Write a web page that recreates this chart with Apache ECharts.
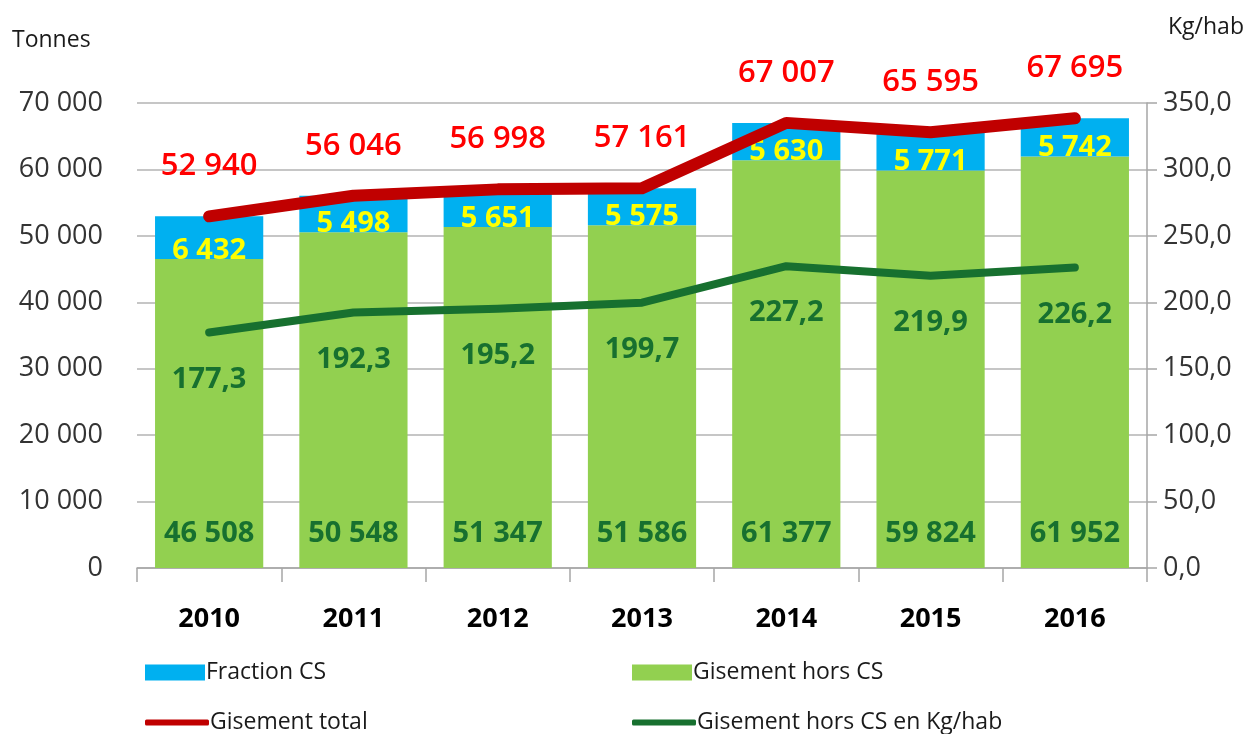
<!DOCTYPE html>
<html>
<head>
<meta charset="utf-8">
<script src="https://cdn.jsdelivr.net/npm/echarts@6/dist/echarts.min.js"></script>
<style>
  html, body { margin: 0; padding: 0; background: #fff; }
  #chart { width: 1256px; height: 734px; }
</style>
</head>
<body>
<div id="chart"></div>
<script>
// données
var years = ['2010', '2011', '2012', '2013', '2014', '2015', '2016']
var horsCS = [46508, 50548, 51347, 51586, 61377, 59824, 61952]
var fractionCS = [6432, 5498, 5651, 5575, 5630, 5771, 5742]
var total = [52940, 56046, 56998, 57161, 67007, 65595, 67695]
var kgHab = [177.3, 192.3, 195.2, 199.7, 227.2, 219.9, 226.2]
var leftTicks = [0, 10000, 70000]   // min, pas, max
var rightTicks = [0, 50, 350]

var FONT = 'Open Sans'

// 52940 -> "52 940"
function fmtInt(v) {
  return String(Math.round(v)).replace(/\B(?=(\d{3})+(?!\d))/g, ' ')
}
function fmtDec(v) {
  return v.toFixed(1).replace('.', ',')
}

var chart = echarts.init(document.getElementById('chart'), null, { renderer: 'canvas' })

var legendBase = {
  orient: 'horizontal',
  itemWidth: 60,
  itemHeight: 16,
  itemGap: 4,
  textStyle: { fontFamily: FONT, fontSize: 23, color: '#1a1a1a', padding: [0, 0, 0, -4] },
  selectedMode: false
}

var dataLabel = {
  show: true,
  fontFamily: FONT,
  fontSize: 29,
  fontWeight: 'bold'
}

var option = {
  animation: false,
  backgroundColor: '#fff',
  textStyle: { fontFamily: FONT },
  grid: { left: 137, right: 109, top: 103, bottom: 166, containLabel: false },
  graphic: [
    { type: 'text', left: 12, top: 29, style: { text: 'Tonnes', font: '23px "Open Sans"', fill: '#1a1a1a' } },
    { type: 'text', left: 1168, top: 16, style: { text: 'Kg/hab', font: '23px "Open Sans"', fill: '#1a1a1a' } }
  ],
  legend: [
    Object.assign({}, legendBase, { left: 140, top: 656, data: [{ name: 'Fraction CS', icon: 'rect' }] }),
    Object.assign({}, legendBase, { left: 627, top: 656, data: [{ name: 'Gisement hors CS', icon: 'rect' }] }),
    Object.assign({}, legendBase, { left: 140, top: 706, itemWidth: 64, itemHeight: 6,
      data: [{ name: 'Gisement total', icon: 'roundRect' }] }),
    Object.assign({}, legendBase, { left: 627, top: 706, itemWidth: 64, itemHeight: 6,
      data: [{ name: 'Gisement hors CS en Kg/hab', icon: 'roundRect' }] })
  ],
  xAxis: {
    type: 'category',
    data: years,
    axisLine: { show: true, lineStyle: { color: '#a6a6a6', width: 1.5 } },
    axisTick: { show: true, length: 14, alignWithLabel: false, lineStyle: { color: '#a6a6a6', width: 1.5 } },
    axisLabel: { margin: 38, fontFamily: FONT, fontSize: 27, fontWeight: 'bold', color: '#000' }
  },
  yAxis: [{
    type: 'value',
    min: leftTicks[0],
    interval: leftTicks[1],
    max: leftTicks[2],
    axisLine: { show: false },
    axisTick: { show: false },
    splitLine: { show: true, lineStyle: { color: '#b3b3b3', width: 1.5 } },
    axisLabel: { margin: 34, fontFamily: FONT, fontSize: 27, color: '#333', formatter: fmtInt }
  }, {
    type: 'value',
    min: rightTicks[0],
    interval: rightTicks[1],
    max: rightTicks[2],
    position: 'right',
    axisLine: { show: true, lineStyle: { color: '#a6a6a6', width: 1.5 } },
    axisTick: { show: true, length: 10, lineStyle: { color: '#a6a6a6', width: 1.5 } },
    splitLine: { show: false },
    axisLabel: { margin: 16, fontFamily: FONT, fontSize: 27, color: '#333', formatter: fmtDec }
  }],
  series: [{
    name: 'Gisement hors CS',
    type: 'bar',
    stack: 'tonnes',
    barCategoryGap: '25%',
    itemStyle: { color: '#92d050' },
    label: Object.assign({}, dataLabel, {
      position: 'insideBottom',
      distance: 20,
      color: '#17702f',
      formatter: function (p) { return fmtInt(p.value) }
    }),
    data: horsCS
  }, {
    name: 'Fraction CS',
    type: 'bar',
    stack: 'tonnes',
    itemStyle: { color: '#00b0f0' },
    label: Object.assign({}, dataLabel, {
      position: 'insideBottom',
      distance: -6,
      color: '#ffff00',
      formatter: function (p) { return fmtInt(p.value) }
    }),
    data: fractionCS
  }, {
    name: 'Gisement total',
    type: 'line',
    yAxisIndex: 0,
    symbol: 'circle',
    symbolSize: 1,
    showSymbol: true,
    z: 5,
    itemStyle: { color: '#c00000' },
    lineStyle: { color: '#c00000', width: 12, cap: 'round', join: 'round' },
    label: Object.assign({}, dataLabel, {
      position: 'top',
      distance: 34,
      fontSize: 31,
      fontWeight: 600,
      color: '#ff0000',
      formatter: function (p) { return fmtInt(p.value) }
    }),
    data: total
  }, {
    name: 'Gisement hors CS en Kg/hab',
    type: 'line',
    yAxisIndex: 1,
    symbol: 'circle',
    symbolSize: 1,
    showSymbol: true,
    z: 5,
    itemStyle: { color: '#17702f' },
    lineStyle: { color: '#17702f', width: 8, cap: 'round', join: 'round' },
    label: Object.assign({}, dataLabel, {
      position: 'bottom',
      distance: 32,
      color: '#17702f',
      formatter: function (p) { return fmtDec(p.value) }
    }),
    data: kgHab
  }]
}

chart.setOption(option)
</script>
</body>
</html>
